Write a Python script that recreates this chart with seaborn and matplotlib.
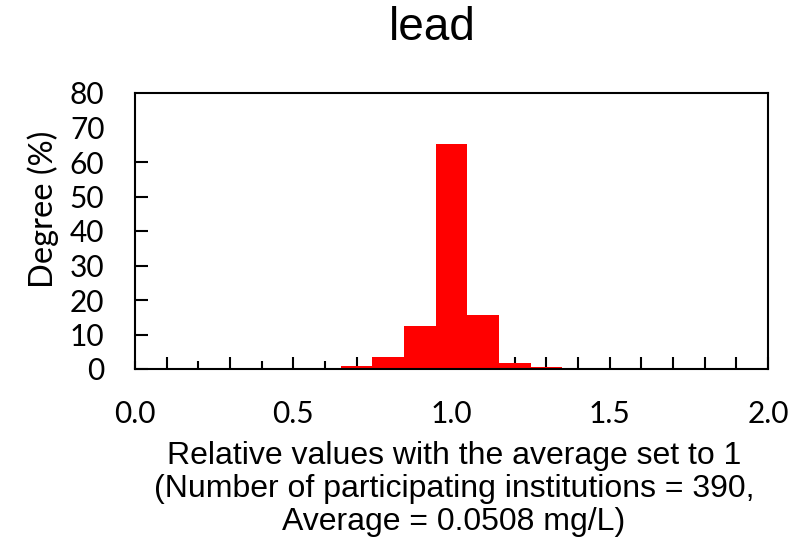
import numpy as np
import matplotlib
matplotlib.use("Agg")
import matplotlib.pyplot as plt
import seaborn as sns
from matplotlib.ticker import MultipleLocator, FuncFormatter

sns.set_theme(style="white")

# histogram data
bin_centers = [0.7, 0.8, 0.9, 1.0, 1.1, 1.2, 1.3]
degree_pct = [1.0, 3.4, 12.5, 65.2, 15.6, 1.8, 0.5]
bin_edges = [0.65, 0.75, 0.85, 0.95, 1.05, 1.15, 1.25, 1.35]

title = "lead"
xlabel = ("Relative values with the average set to 1\n"
          "(Number of participating institutions = 390,\n"
          "Average = 0.0508 mg/L)")
ylabel = "Degree (%)"

fig = plt.figure(figsize=(8.05, 5.44), dpi=100)
ax = fig.add_axes([135/805, 1-369/544, (768-135)/805, (369-93)/544])

sns.histplot(x=bin_centers, weights=degree_pct, bins=bin_edges, ax=ax,
             color="#ff0000", alpha=1, linewidth=0, stat="count")

ax.set_xlim(0, 2.0)
ax.set_ylim(0, 80)
ax.set_ylabel("")
ax.set_xlabel("")

for s in ax.spines.values():
    s.set_color("black")
    s.set_linewidth(1.5)

ax.xaxis.set_major_locator(MultipleLocator(0.1))
ax.xaxis.set_major_formatter(FuncFormatter(
    lambda v, p: f"{v:.1f}" if abs(v*2 - round(v*2)) < 1e-6 else ""))
ax.yaxis.set_major_locator(MultipleLocator(10))
ax.tick_params(bottom=True, left=True, direction="in", width=1.5, length=8,
               color="black", labelsize=21.5, labelcolor="black")
ax.tick_params(axis="x", pad=22)
ax.tick_params(axis="y", pad=22)
for t in ax.xaxis.get_major_ticks():
    n = int(round(t.get_loc() * 10))
    if n == 0 or n == 20:
        t.tick1line.set_markersize(0)
    elif n % 2 == 1:
        t.tick1line.set_markersize(6)
    else:
        t.tick1line.set_markersize(9)
for t in ax.yaxis.get_major_ticks():
    n = int(round(t.get_loc()))
    t.tick1line.set_markersize(0 if n in (0, 80) else 9)
for lab in ax.get_xticklabels() + ax.get_yticklabels():
    lab.set_family(["Lato", "DejaVu Sans"])

fig.text(432/805, 1-28/544, title, ha="center", va="center", color="black",
         fontsize=33, family=["Liberation Sans", "DejaVu Sans"])
fig.text(454/805, 1-489/544, xlabel, ha="center", va="center", color="black",
         fontsize=23, linespacing=1.12, family=["Liberation Sans", "DejaVu Sans"])
fig.text(43/805, 1-209/544, ylabel, ha="center", va="center", rotation=90,
         color="black", fontsize=23.5, family=["Lato", "DejaVu Sans"])

fig.savefig("out.png", dpi=100, facecolor="white")
